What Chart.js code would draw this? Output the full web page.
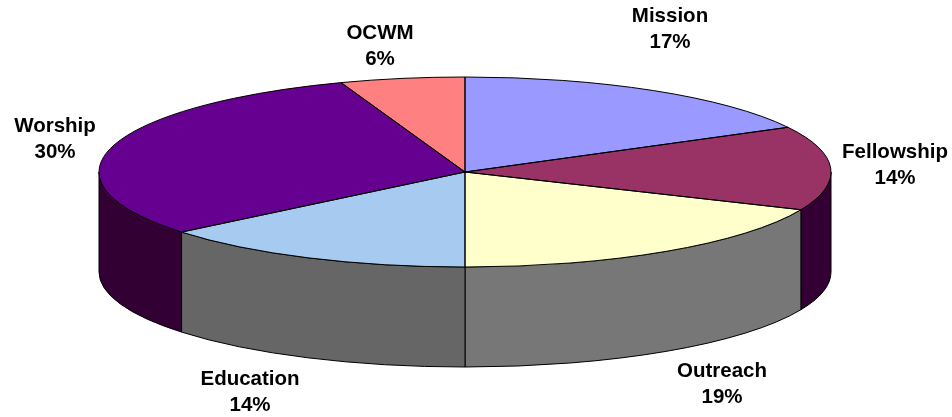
<!DOCTYPE html>
<html>
<head>
<meta charset="utf-8">
<title>Budget pie</title>
<script src="https://cdn.jsdelivr.net/npm/chart.js@4/dist/chart.umd.min.js"></script>
<style>
  html, body { margin: 0; padding: 0; background: #fff; overflow: hidden; }
  canvas { display: block; }
</style>
</head>
<body>
<canvas id="budget-chart" width="952" height="417"></canvas>
<script>
// Chart data, slice sizes (labels show them rounded)
const categories = ['Mission', 'Fellowship', 'Outreach', 'Education', 'Worship', 'OCWM'];
const shares = [17.2, 14.3, 18.5, 14.1, 30.4, 5.5];
const topColors = ['#9999ff', '#993366', '#ffffcc', '#a6caf0', '#660090', '#ff8080'];
const wallColors = ['#330033', '#330033', '#777777', '#666666', '#330033', '#330033'];

// Where the tilted pie sits on the page
const PIE_X = 465;
const PIE_Y = 172;
const PIE_RX = 366;
const PIE_RY = 95;
const PIE_DEPTH = 100;

// Label centres, same order as categories
const labelX = [670, 895, 722, 250, 55, 380];
const labelY = [16, 152, 371, 379, 126, 33];
const LINE_GAP = 26;

function tracePie(ctx, arc, dy) {
  ctx.moveTo(PIE_X, PIE_Y + dy);
  ctx.ellipse(PIE_X, PIE_Y + dy, PIE_RX, PIE_RY, 0, arc.startAngle, arc.endAngle);
  ctx.closePath();
}

// Side walls, only the part of each slice that faces the viewer
function drawWalls(chart) {
  const ctx = chart.ctx;
  chart.getDatasetMeta(0).data.forEach((arc, i) => {
    const start = Math.max(arc.startAngle, 0);
    const end = Math.min(arc.endAngle, Math.PI);
    if (end <= start) return;
    ctx.beginPath();
    ctx.ellipse(PIE_X, PIE_Y, PIE_RX, PIE_RY, 0, start, end);
    ctx.ellipse(PIE_X, PIE_Y + PIE_DEPTH, PIE_RX, PIE_RY, 0, end, start, true);
    ctx.closePath();
    ctx.fillStyle = wallColors[i];
    ctx.fill();
    ctx.strokeStyle = '#000';
    ctx.lineWidth = 1;
    ctx.stroke();
  });
}

const tiltedPie = {
  id: 'tiltedPie',
  beforeDatasetsDraw(chart) {
    const ctx = chart.ctx;
    const arc = chart.getDatasetMeta(0).data[0];
    drawWalls(chart);

    // Squash the round pie into an ellipse
    ctx.save();
    ctx.translate(PIE_X, PIE_Y);
    ctx.scale(PIE_RX / arc.outerRadius, PIE_RY / arc.outerRadius);
    ctx.translate(-arc.x, -arc.y);
  },
  afterDatasetsDraw(chart) {
    const ctx = chart.ctx;
    ctx.restore();

    // Outlines go on after the restore so the line width stays even
    chart.getDatasetMeta(0).data.forEach((arc) => {
      ctx.beginPath();
      tracePie(ctx, arc, 0);
      ctx.strokeStyle = '#000';
      ctx.lineWidth = 1;
      ctx.stroke();
    });

    // Labels
    ctx.save();
    ctx.fillStyle = '#000';
    ctx.font = 'bold 20.5px "Liberation Sans"';
    ctx.textAlign = 'center';
    ctx.textBaseline = 'middle';
    categories.forEach((name, i) => {
      ctx.fillText(name, labelX[i], labelY[i]);
      ctx.fillText(Math.round(shares[i]) + '%', labelX[i], labelY[i] + LINE_GAP);
    });
    ctx.restore();
  }
};

new Chart(document.getElementById('budget-chart').getContext('2d'), {
  type: 'pie',
  data: {
    labels: categories,
    datasets: [{
      data: shares,
      backgroundColor: topColors,
      borderWidth: 0,
      clip: false
    }]
  },
  options: {
    responsive: false,
    animation: false,
    layout: { padding: 0 },
    plugins: {
      legend: { display: false },
      tooltip: { enabled: false }
    }
  },
  plugins: [tiltedPie]
});
</script>
</body>
</html>
